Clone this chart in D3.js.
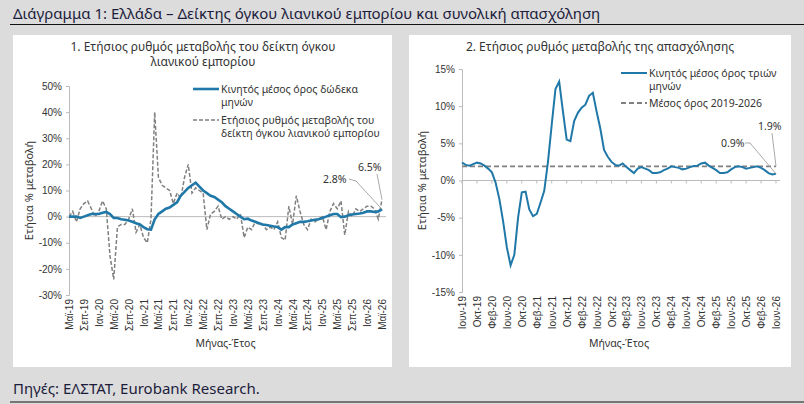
<!DOCTYPE html>
<html><head><meta charset="utf-8">
<script src="https://cdn.jsdelivr.net/npm/d3@7"></script>
<style>
body{margin:0;background:#dcdcdc;}
svg{display:block;font-family:"Noto Sans",sans-serif;}
</style></head>
<body><svg id="c" width="804" height="404"></svg>
<script>
// Left: retail volume index, May-19 .. May-26
const retailMonthly = [
  0,2,-2,3,5,6,3,0,
  2,6,3,-15,-24,-4,-3,-3,-1,3,-6,-3,
  -8,-10,-1,40,15,12,11,10,5,9,7,15,
  20,9,11,10,9,-5,1,2,4,-1,0,-1,
  0,-1,1,-8,-4,-5,-2,-3,-3,-5,-4,-5,
  -2,-8,-9,4,-3,8,2,-3,-5,-1,-2,-1,
  0,-5,2,5,3,6,-7,2,0,3,2,3,
  4,4,3,-1,6.5];
const retail12m = [
  0,0,0,-0.5,0,0.5,1,1,
  1,1.5,1.8,1,-0.5,-0.5,-1,-1.2,-1.5,-2,-2.5,-3,
  -4,-4.8,-5,-1,1,2,3,3.5,4.5,5.5,8,9.5,
  11,12,13,11.5,10,9,8,7.5,6.5,5.5,4,3,
  2,1,0,-1,-0.8,-1.5,-2,-2.5,-3,-3.2,-3.5,-3.8,
  -4,-5,-4,-4,-3,-2.5,-2,-2,-1.8,-1.5,-1.2,-1,
  -0.5,0,0.5,1,1,-0.2,0,0.5,0.8,1,1.2,1.5,
  2,2,1.8,2,2.8];
const retailTicks = ["Μαϊ-19","Σεπ-19","Ιαν-20","Μαϊ-20","Σεπ-20","Ιαν-21","Μαϊ-21","Σεπ-21","Ιαν-22","Μαϊ-22","Σεπ-22","Ιαν-23","Μαϊ-23","Σεπ-23","Ιαν-24","Μαϊ-24","Σεπ-24","Ιαν-25","Μαϊ-25","Σεπ-25","Ιαν-26","Μαϊ-26"];

// Right: employment 3m MA, Jun-19 .. Jun-26
const employ3m = [
  2.4,2.1,2.0,2.2,2.4,2.3,2.0,1.6,1.1,-0.3,-2.5,-5.5,-9,-11.4,-10,-5,-1.6,-1.5,-3.9,-4.8,
  -4.5,-3,-1.4,2.5,7.5,12.3,13.3,9.3,5.5,5.3,8,9.1,9.8,10.2,11.4,11.8,9.3,7,4.1,3.2,
  2.5,2.1,2.0,2.3,1.8,1.4,1.0,1.6,1.8,1.6,1.4,1.0,1.0,1.1,1.4,1.6,1.9,1.8,1.7,1.5,
  1.6,1.8,1.95,2.0,2.3,2.4,2.0,1.7,1.4,1.0,1.0,1.1,1.5,1.8,1.9,1.8,1.6,1.7,1.8,1.9,
  1.7,1.4,1.0,0.8,0.9];
const employAvg = 1.9;
const employTicks = ["Ιουν-19","Οκτ-19","Φεβ-20","Ιουν-20","Οκτ-20","Φεβ-21","Ιουν-21","Οκτ-21","Φεβ-22","Ιουν-22","Οκτ-22","Φεβ-23","Ιουν-23","Οκτ-23","Φεβ-24","Ιουν-24","Οκτ-24","Φεβ-25","Ιουν-25","Οκτ-25","Φεβ-26","Ιουν-26"];

const svg = d3.select("#c");
const blue = "#1f78a8", grey = "#808080", txt = "#333";

svg.append("text").attr("x", 13).attr("y", 19).attr("font-size", 15).attr("fill", "#1c1c3c")
  .text("Διάγραμμα 1: Ελλάδα – Δείκτης όγκου λιανικού εμπορίου και συνολική απασχόληση");
svg.append("line").attr("x1", 10).attr("x2", 804).attr("y1", 24.5).attr("y2", 24.5).attr("stroke", "#111");
svg.append("text").attr("x", 13).attr("y", 394).attr("font-size", 15).attr("fill", "#1c1c3c")
  .text("Πηγές: ΕΛΣΤΑΤ, Eurobank Research.");
svg.append("line").attr("x1", 10).attr("x2", 804).attr("y1", 402).attr("y2", 402).attr("stroke", "#111");

svg.append("rect").attr("x", 13).attr("y", 35).attr("width", 379).attr("height", 332).attr("fill", "#fff");
svg.append("rect").attr("x", 409).attr("y", 35).attr("width", 382).attr("height", 332).attr("fill", "#fff");

function panel(o) {
  const g = svg.append("g");
  const x = d3.scaleLinear().domain([0, o.n - 1]).range([o.x0, o.x1]);
  const y = d3.scaleLinear().domain(o.ydom).range([o.y1, o.y0]);
  // y axis
  const ya = g.append("g").attr("transform", `translate(${o.x0},0)`)
    .call(d3.axisLeft(y).tickValues(o.yticks).tickFormat(d => d + "%").tickSize(3));
  ya.select(".domain").attr("stroke", "#bbb");
  ya.selectAll(".tick line").attr("stroke", "#bbb");
  ya.selectAll("text").attr("font-size", 10).attr("fill", txt).attr("dx", -1);
  // zero line
  g.append("line").attr("x1", o.x0).attr("x2", o.x1 + 4).attr("y1", y(0)).attr("y2", y(0)).attr("stroke", "#bbb");
  // x tick labels at bottom
  const xa = g.append("g").attr("transform", `translate(0,${o.y1})`)
    .call(d3.axisBottom(x).tickValues(o.ticks.map((_, i) => i * 4)).tickFormat((d, i) => o.ticks[i]).tickSize(0));
  xa.select(".domain").remove();
  xa.selectAll("text").attr("font-size", 10).attr("fill", txt)
    .attr("transform", "rotate(-90)").attr("text-anchor", "end").attr("dx", "-4").attr("dy", "0.35em").attr("x", 0).attr("y", 0);
  if (o.zeroTicks) {
    g.selectAll(".zt").data(o.ticks.map((_, i) => i * 4)).join("line")
      .attr("x1", d => x(d)).attr("x2", d => x(d)).attr("y1", y(0)).attr("y2", y(0) + 3).attr("stroke", "#bbb");
  }
  g.append("text").attr("transform", `translate(${o.x0 - 36},${(o.y0 + o.y1) / 2}) rotate(-90)`)
    .attr("text-anchor", "middle").attr("font-size", 11).attr("fill", txt).text("Ετήσια % μεταβολή");
  g.append("text").attr("x", (o.x0 + o.x1) / 2).attr("y", 347).attr("text-anchor", "middle")
    .attr("font-size", 10.5).attr("fill", txt).text("Μήνας-Έτος");
  o.title.forEach((t, i) => g.append("text").attr("x", o.tx).attr("y", 51 + i * 15)
    .attr("text-anchor", "middle").attr("font-size", 12).attr("fill", txt).text(t));
  return { g, x, y };
}

// Left panel
const L = panel({ n: 85, x0: 69, x1: 382, y0: 86, y1: 295, ydom: [-30, 50], yticks: d3.range(-30, 51, 10),
  ticks: retailTicks, title: ["1. Ετήσιος ρυθμός μεταβολής του δείκτη όγκου", "λιανικού εμπορίου"], tx: 203 });
const lineL = d3.line().x((d, i) => L.x(i)).y(d => L.y(d));
L.g.append("path").datum(retailMonthly).attr("d", lineL).attr("fill", "none")
  .attr("stroke", grey).attr("stroke-width", 1.5).attr("stroke-dasharray", "4,2");
L.g.append("path").datum(retail12m).attr("d", lineL).attr("fill", "none")
  .attr("stroke", blue).attr("stroke-width", 2.6);
// legend
L.g.append("line").attr("x1", 193).attr("x2", 219).attr("y1", 89).attr("y2", 89).attr("stroke", blue).attr("stroke-width", 2.6);
L.g.append("text").attr("x", 221).attr("y", 93).attr("font-size", 10.5).attr("fill", txt).text("Κινητός μέσος όρος δώδεκα");
L.g.append("text").attr("x", 221).attr("y", 106).attr("font-size", 10.5).attr("fill", txt).text("μηνών");
L.g.append("line").attr("x1", 193).attr("x2", 219).attr("y1", 120).attr("y2", 120).attr("stroke", grey).attr("stroke-width", 1.5).attr("stroke-dasharray", "4,2");
L.g.append("text").attr("x", 221).attr("y", 124).attr("font-size", 10.5).attr("fill", txt).text("Ετήσιος ρυθμός μεταβολής του");
L.g.append("text").attr("x", 221).attr("y", 137).attr("font-size", 10.5).attr("fill", txt).text("δείκτη όγκου λιανικού εμπορίου");
// annotations
const lastL = retail12m.length - 1;
L.g.append("text").attr("x", 323).attr("y", 183).attr("font-size", 10.5).attr("fill", txt).text(retail12m[lastL].toFixed(1) + "%");
L.g.append("polyline").attr("points", `349,179 356,181 ${L.x(lastL)},${L.y(retail12m[lastL])}`).attr("fill", "none").attr("stroke", "#aaa");
L.g.append("text").attr("x", 358).attr("y", 171).attr("font-size", 10.5).attr("fill", txt).text(retailMonthly[lastL].toFixed(1) + "%");
L.g.append("line").attr("x1", 377).attr("y1", 174).attr("x2", L.x(lastL)).attr("y2", L.y(retailMonthly[lastL])).attr("stroke", "#aaa");

// Right panel
const R = panel({ n: 85, x0: 462, x1: 776, y0: 69, y1: 292, ydom: [-15, 15], yticks: d3.range(-15, 16, 5),
  ticks: employTicks, title: ["2. Ετήσιος ρυθμός μεταβολής της απασχόλησης"], tx: 600, zeroTicks: true });
R.g.append("line").attr("x1", R.x(0)).attr("x2", R.x(84)).attr("y1", R.y(employAvg)).attr("y2", R.y(employAvg))
  .attr("stroke", grey).attr("stroke-width", 1.8).attr("stroke-dasharray", "5,3");
R.g.append("path").datum(employ3m).attr("d", d3.line().x((d, i) => R.x(i)).y(d => R.y(d)))
  .attr("fill", "none").attr("stroke", blue).attr("stroke-width", 2);
R.g.append("line").attr("x1", 621).attr("x2", 647).attr("y1", 73).attr("y2", 73).attr("stroke", blue).attr("stroke-width", 2);
R.g.append("text").attr("x", 649).attr("y", 77).attr("font-size", 10.5).attr("fill", txt).text("Κινητός μέσος όρος τριών");
R.g.append("text").attr("x", 649).attr("y", 90).attr("font-size", 10.5).attr("fill", txt).text("μηνών");
R.g.append("line").attr("x1", 621).attr("x2", 647).attr("y1", 103).attr("y2", 103).attr("stroke", grey).attr("stroke-width", 1.8).attr("stroke-dasharray", "5,3");
R.g.append("text").attr("x", 649).attr("y", 107).attr("font-size", 10.5).attr("fill", txt).text("Μέσος όρος 2019-2026");
const lastR = employ3m.length - 1;
R.g.append("text").attr("x", 721).attr("y", 147).attr("font-size", 10.5).attr("fill", txt).text(employ3m[lastR].toFixed(1) + "%");
R.g.append("polyline").attr("points", `745,143 750,143 ${R.x(lastR)},${R.y(employ3m[lastR])}`).attr("fill", "none").attr("stroke", "#aaa");
R.g.append("text").attr("x", 758).attr("y", 130).attr("font-size", 10.5).attr("fill", txt).text(employAvg.toFixed(1) + "%");
R.g.append("line").attr("x1", 772).attr("y1", 133).attr("x2", R.x(lastR)).attr("y2", R.y(employAvg)).attr("stroke", "#aaa");
</script></body></html>
